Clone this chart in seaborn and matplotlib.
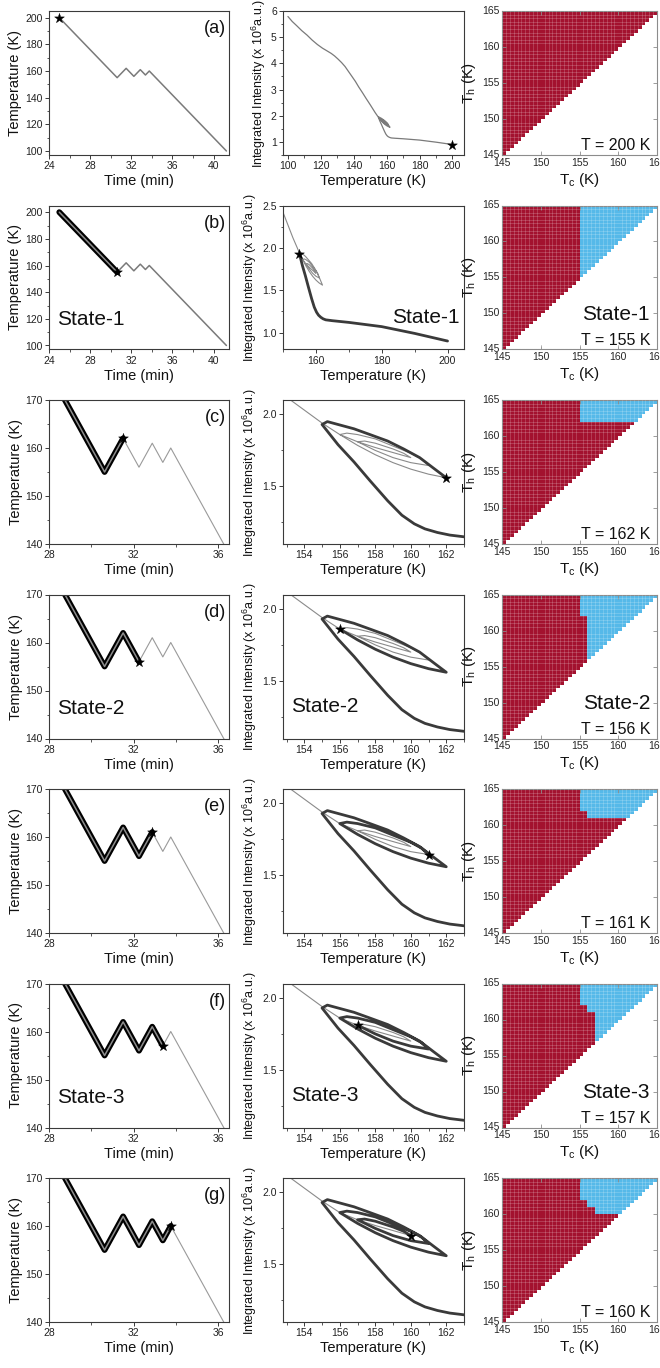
import numpy as np
import matplotlib
matplotlib.use("Agg")
import matplotlib.pyplot as plt
from matplotlib.colors import ListedColormap
from matplotlib.ticker import MultipleLocator, FormatStrFormatter
import seaborn as sns

sns.set_theme(style="ticks")
plt.rcParams["font.family"] = ["Liberation Sans", "DejaVu Sans"]
plt.rcParams["mathtext.fontset"] = "custom"
plt.rcParams["mathtext.rm"] = "Liberation Sans"
plt.rcParams["mathtext.it"] = "Liberation Sans:italic"

# Temperature programme: turning points (time in min, temperature in K)
turn_time = [25.0, 30.625, 31.5, 32.25, 32.875, 33.375, 33.75, 41.25]
turn_temp = [200, 155, 162, 156, 161, 157, 160, 100]

# Integrated intensity (x 1e6 a.u.) along each leg of the programme
leg1_T = [200, 190, 180, 170, 165, 163, 162.2, 161.5, 160.8, 160.2, 159.5, 158.7, 157.7, 156.8, 155.9, 155]
leg1_I = [0.90, 0.99, 1.07, 1.12, 1.14, 1.15, 1.162, 1.18, 1.205, 1.24, 1.30, 1.40, 1.54, 1.67, 1.79, 1.93]
leg2_T = [155, 155.3, 155.9, 156.8, 157.7, 158.7, 159.6, 160.5, 161.3, 162]
leg2_I = [1.93, 1.95, 1.93, 1.90, 1.86, 1.815, 1.76, 1.70, 1.625, 1.56]
leg3_T = [162, 161, 160, 159, 158, 157, 156]
leg3_I = [1.56, 1.585, 1.62, 1.665, 1.72, 1.785, 1.86]
leg4_T = [156, 156.4, 157, 158, 159, 160, 160.6, 161]
leg4_I = [1.86, 1.87, 1.86, 1.83, 1.78, 1.73, 1.69, 1.645]
leg5_T = [161, 160, 159, 158, 157]
leg5_I = [1.645, 1.665, 1.70, 1.75, 1.81]
leg6_T = [157, 157.4, 158, 159, 159.6, 160]
leg6_I = [1.81, 1.815, 1.80, 1.76, 1.73, 1.70]
leg7_T = [160, 159, 158, 157, 156, 155, 154, 153, 152, 150, 147.5, 145.3, 143, 141,
          138.8, 136.8, 134.7, 132.6, 130.5, 128.4, 126.3, 124.2, 121, 117.9, 114.7,
          111.6, 108.4, 105.3, 102.6, 100]
leg7_I = [1.70, 1.735, 1.77, 1.81, 1.86, 1.94, 2.03, 2.12, 2.22, 2.42, 2.66, 2.88, 3.10,
          3.31, 3.51, 3.69, 3.88, 4.03, 4.16, 4.28, 4.38, 4.46, 4.58, 4.72, 4.89,
          5.08, 5.25, 5.44, 5.60, 5.79]
legs = [(leg1_T, leg1_I), (leg2_T, leg2_I), (leg3_T, leg3_I), (leg4_T, leg4_I),
        (leg5_T, leg5_I), (leg6_T, leg6_I), (leg7_T, leg7_I)]

panel_tags = ["(a)", "(b)", "(c)", "(d)", "(e)", "(f)", "(g)"]
state_names = {1: "State-1", 3: "State-2", 5: "State-3"}

# Hysteron grid (cooling threshold Tc, heating threshold Th), 0.5 K cells
cell_lo, cell_hi, cell_step = 145.0, 165.0, 0.5
n_cells = int(round((cell_hi - cell_lo) / cell_step))
cell_mid = cell_lo + cell_step * (np.arange(n_cells) + 0.5)
RED, BLUE = "#a3122f", "#56b9e9"

W, H = 660, 1368
fig = plt.figure(figsize=(W / 100, H / 100), dpi=100)

ROW_TOP, ROW_PITCH, AX_H = 11, 194.5, 144
COLS = [(49, 180), (283, 181), (502, 155)]
FRAME = "#3a3a3a"


def add_axes(row, col):
    left, width = COLS[col]
    top = ROW_TOP + ROW_PITCH * row
    return fig.add_axes([left / W, 1 - (top + AX_H) / H, width / W, AX_H / H])


def origin_style(ax):
    for sp in ax.spines.values():
        sp.set_visible(True)
        sp.set_color(FRAME)
        sp.set_linewidth(0.8)
    ax.tick_params(which="major", direction="out", length=3, width=0.7,
                   colors=FRAME, labelsize=7.5, pad=1.5, labelcolor="#222222")
    ax.tick_params(which="minor", direction="out", length=1.8, width=0.6, colors=FRAME)
    ax.tick_params(top=False, right=False, which="both")


def path_between(times, temps, i0, i1):
    return times[i0:i1 + 1], temps[i0:i1 + 1]


def legs_concat(seq):
    xs, ys = [], []
    for tx, iy in seq:
        xs += list(tx)
        ys += list(iy)
    return xs, ys


def hysteron_state(history):
    # 0 = high-temperature phase, 1 = low-temperature phase; rows = Th, cols = Tc
    state = np.zeros((n_cells, n_cells))
    for prev, cur in zip(history[:-1], history[1:]):
        if cur < prev:
            state[:, cell_mid > cur] = 1
        else:
            state[cell_mid < cur, :] = 0
    return state


def star(ax, x, y):
    sns.scatterplot(x=[x], y=[y], marker="*", s=55, color="black",
                    edgecolor="black", linewidth=0.3, ax=ax, zorder=10, legend=False)


def line(ax, x, y, **kw):
    sns.lineplot(x=x, y=y, sort=False, estimator=None, ax=ax, legend=False, **kw)


for k in range(7):
    # ---------------- column 1: temperature programme ----------------
    ax = add_axes(k, 0)
    n_turn = len(turn_time)
    if k == 0:
        line(ax, turn_time, turn_temp, color="#7a7a7a", linewidth=1.1)
    else:
        rest_color = "#7a7a7a" if k == 1 else "#9a9a9a"
        rest_lw = 1.1 if k == 1 else 0.8
        rx, ry = path_between(turn_time, turn_temp, k, n_turn - 1)
        line(ax, rx, ry, color=rest_color, linewidth=rest_lw)
        dx, dy = path_between(turn_time, turn_temp, 0, k)
        line(ax, dx, dy, color="black", linewidth=4.2, solid_capstyle="round")
        line(ax, dx, dy, color="#8c8c8c", linewidth=1.1, solid_capstyle="round")
    star(ax, turn_time[k], turn_temp[k])
    origin_style(ax)
    if k < 2:
        ax.set_xlim(24, 41.5)
        ax.set_ylim(97, 205)
        ax.xaxis.set_major_locator(MultipleLocator(4))
        ax.xaxis.set_minor_locator(MultipleLocator(2))
        ax.yaxis.set_major_locator(MultipleLocator(20))
        ax.yaxis.set_minor_locator(MultipleLocator(10))
    else:
        ax.set_xlim(28, 36.5)
        ax.set_ylim(140, 170)
        ax.xaxis.set_major_locator(MultipleLocator(4))
        ax.xaxis.set_minor_locator(MultipleLocator(2))
        ax.yaxis.set_major_locator(MultipleLocator(10))
        ax.yaxis.set_minor_locator(MultipleLocator(5))
    ax.set_xlabel("Time (min)", fontsize=10.5, labelpad=2, color="#111111")
    ax.set_ylabel("Temperature (K)", fontsize=10.5, labelpad=2, color="#111111")
    ax.text(0.985, 0.935, panel_tags[k], transform=ax.transAxes, ha="right",
            va="top", fontsize=13, color="#111111")
    if k in state_names:
        ax.text(0.045, 0.21, state_names[k], transform=ax.transAxes, ha="left",
                va="center", fontsize=15, color="#111111")

    # ---------------- column 2: integrated intensity ----------------
    ax = add_axes(k, 1)
    rest_x, rest_y = legs_concat(legs[k:])
    if k == 0:
        line(ax, rest_x, rest_y, color="#7a7a7a", linewidth=0.9)
    else:
        line(ax, rest_x, rest_y, color="#8a8a8a", linewidth=0.8)
        done_x, done_y = legs_concat(legs[:k])
        line(ax, done_x, done_y, color="#3a3a3a", linewidth=2.0,
             solid_capstyle="round", solid_joinstyle="round")
    if k == 0:
        star(ax, legs[0][0][0], legs[0][1][0])
    else:
        star(ax, legs[k - 1][0][-1], legs[k - 1][1][-1])
    origin_style(ax)
    if k == 0:
        ax.set_xlim(97, 207)
        ax.set_ylim(0.5, 6.0)
        ax.xaxis.set_major_locator(MultipleLocator(20))
        ax.xaxis.set_minor_locator(MultipleLocator(10))
        ax.yaxis.set_major_locator(MultipleLocator(1))
        ax.yaxis.set_minor_locator(MultipleLocator(0.5))
    elif k == 1:
        ax.set_xlim(150, 205)
        ax.set_ylim(0.8, 2.5)
        ax.xaxis.set_major_locator(MultipleLocator(20))
        ax.xaxis.set_minor_locator(MultipleLocator(10))
        ax.yaxis.set_major_locator(MultipleLocator(0.5))
        ax.yaxis.set_minor_locator(MultipleLocator(0.25))
    else:
        ax.set_xlim(152.8, 163)
        ax.set_ylim(1.1, 2.1)
        ax.xaxis.set_major_locator(MultipleLocator(2))
        ax.xaxis.set_minor_locator(MultipleLocator(1))
        ax.yaxis.set_major_locator(MultipleLocator(0.5))
        ax.yaxis.set_minor_locator(MultipleLocator(0.25))
    if k >= 1:
        ax.yaxis.set_major_formatter(FormatStrFormatter("%.1f"))
    ax.set_xlabel("Temperature (K)", fontsize=10.5, labelpad=2, color="#111111")
    ax.set_ylabel("Integrated Intensity (x 10$^6$a.u.)", fontsize=9.0,
                  labelpad=2, color="#111111")
    if k == 1:
        ax.text(0.975, 0.22, state_names[k], transform=ax.transAxes, ha="right",
                va="center", fontsize=15, color="#111111")
    elif k in state_names:
        ax.text(0.045, 0.22, state_names[k], transform=ax.transAxes, ha="left",
                va="center", fontsize=15, color="#111111")

    # ---------------- column 3: hysteron map ----------------
    ax = add_axes(k, 2)
    state = hysteron_state(turn_temp[:k + 1])
    below_diag = cell_mid[:, None] < cell_mid[None, :]
    sns.heatmap(state, mask=below_diag, cmap=ListedColormap([RED, BLUE]),
                vmin=0, vmax=1, cbar=False, linewidths=0, ax=ax)
    ax.set_ylim(0, n_cells)
    ax.set_xlim(0, n_cells)
    tick_vals = [145, 150, 155, 160, 165]
    tick_pos = [(v - cell_lo) / cell_step for v in tick_vals]
    ax.set_xticks(tick_pos)
    ax.set_xticklabels([str(v) for v in tick_vals], rotation=0)
    ax.set_yticks(tick_pos)
    ax.set_yticklabels([str(v) for v in tick_vals], rotation=0)
    # faint cell grid over the map
    ax.set_xticks(np.arange(1, n_cells), minor=True)
    ax.set_yticks(np.arange(1, n_cells), minor=True)
    ax.tick_params(which="minor", length=0)
    ax.grid(which="minor", color="white", alpha=0.28, linewidth=0.45)
    ax.grid(which="major", visible=False)
    ax.set_axisbelow(False)
    for sp in ax.spines.values():
        sp.set_visible(True)
        sp.set_color("#8c8c8c")
        sp.set_linewidth(0.8)
    ax.tick_params(which="major", direction="in", length=3, width=0.6, colors="#8c8c8c",
                   labelcolor="#262626", labelsize=7.5, pad=2,
                   top=True, right=True, bottom=True, left=True)
    ax.set_xlabel(r"T$_\mathrm{c}$ (K)", fontsize=11, labelpad=2, color="#111111")
    ax.set_ylabel(r"T$_\mathrm{h}$ (K)", fontsize=11, labelpad=3, color="#111111")
    ax.text(0.955, 0.065, f"T = {turn_temp[k]} K", transform=ax.transAxes,
            ha="right", va="center", fontsize=11.5, color="#111111", zorder=5)
    if k in state_names:
        ax.text(0.955, 0.24, state_names[k], transform=ax.transAxes, ha="right",
                va="center", fontsize=15, color="#111111", zorder=5)

fig.savefig("out.png", dpi=100)
